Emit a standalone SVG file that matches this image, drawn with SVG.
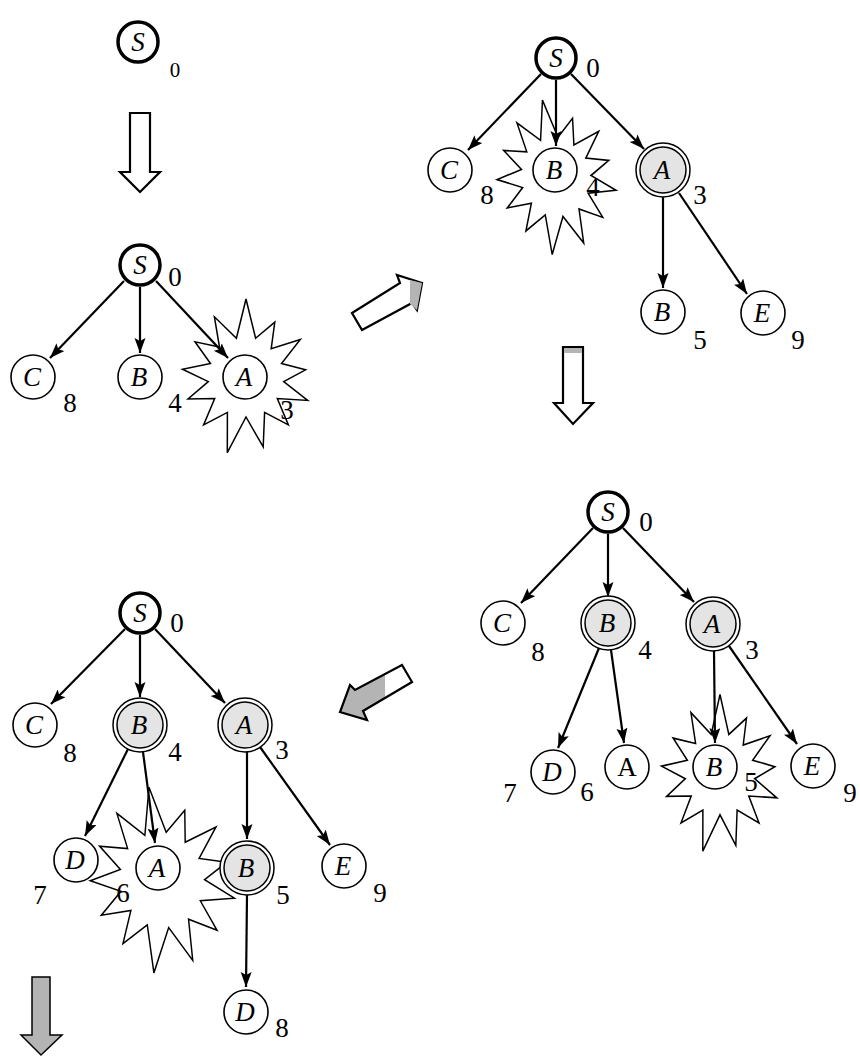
<svg xmlns="http://www.w3.org/2000/svg" xmlns:xlink="http://www.w3.org/1999/xlink" width="860" height="1057" viewBox="0 0 860 1057">
<style>
.c{fill:#fff;stroke:#000;stroke-width:1.6}
.r{fill:#fff;stroke:#000;stroke-width:3.5}
.o{fill:#fff;stroke:#000;stroke-width:1.5}
.i{fill:#e4e4e4;stroke:#000;stroke-width:1.5}
.e{stroke:#000;stroke-width:2.2;fill:none;marker-end:url(#ah)}
.star{fill:#fff;stroke:#000;stroke-width:1.5}
.ba{fill:#fff;stroke:#000;stroke-width:2.2;stroke-linejoin:miter}
.bg{fill:#b4b4b4;stroke:none}
text{font-family:"Liberation Serif","Times New Roman",serif;font-size:27px;text-anchor:middle}
.t{font-style:italic}
.s0{font-size:21px}
</style>
<defs>
<marker id="ah" markerUnits="userSpaceOnUse" markerWidth="16" markerHeight="12" refX="15" refY="5.5" orient="auto">
<path d="M0,0 L15,5.5 L0,11 L3,5.5 z" fill="#000"/>
</marker>
<polygon id="star" points="0,-78 9.6,-38.8 28.8,-54.9 25.2,-28.4 54.3,-37.5 35.5,-13.5 59.6,-7.2 37.7,4.6 61.7,23.4 31.3,21.6 42.4,47.9 18.6,35.4 17.2,69.9 0,40 -18.7,75.7 -18.6,35.4 -42.4,47.9 -31.3,21.6 -58,22 -37.7,4.6 -63.5,-7.7 -35.5,-13.5 -51,-35.2 -26.5,-29.9 -31.6,-60.2 -9.6,-38.8"/>
</defs>

<g id="highlights">
<use xlink:href="#star" class="star" transform="translate(246,377)"/>
<use xlink:href="#star" class="star" transform="translate(556,177) rotate(-10) scale(0.92,1)" style="stroke-width:1.6"/>
<use xlink:href="#star" class="star" transform="translate(720,774) scale(0.92,1.02)" style="stroke-width:1.6"/>
<use xlink:href="#star" class="star" transform="translate(162,880) rotate(-8) scale(1.12,1.2)" style="stroke-width:1.3"/>
</g>

<g id="block-arrows">
<polygon class="ba" points="130,113 150,113 150,172 160,172 140,192 120,172 130,172"/>
<polygon class="ba" points="352,313 400,283 397,275 422,283 417,310 412,303 362,330"/>
<polygon class="bg" points="410,280 422,283 417,310 410,304"/>
<polygon class="ba" points="563,347 583,347 583,403 593,403 573,424 554,403 563,403"/>
<rect class="bg" x="564" y="348" width="18" height="5"/>
<polygon class="bg" points="385,674 355,690 350,685 340,712 367,720 363,711 385,698"/>
<polygon class="ba" style="fill:none" points="402,665 355,690 350,685 340,712 367,720 363,711 412,682"/>
<polygon class="ba" style="fill:#b4b4b4;stroke-width:1.5" points="32,977 50,977 50,1035 62,1035 41,1055 21,1035 32,1035"/>
</g>

<g id="connectors">
<line class="e" x1="124" y1="281" x2="50" y2="358"/>
<line class="e" x1="140" y1="287" x2="140" y2="353"/>
<line class="e" x1="156" y1="281" x2="228" y2="358"/>

<line class="e" x1="541" y1="74" x2="468" y2="150"/>
<line class="e" x1="556" y1="80" x2="556" y2="146"/>
<line class="e" x1="571" y1="74" x2="644" y2="149"/>
<line class="e" x1="663" y1="197" x2="663" y2="288"/>
<line class="e" x1="679" y1="193" x2="747" y2="294"/>

<line class="e" x1="593" y1="528" x2="521" y2="603"/>
<line class="e" x1="608" y1="534" x2="608" y2="597"/>
<line class="e" x1="623" y1="528" x2="694" y2="602"/>
<line class="e" x1="599" y1="648" x2="558" y2="748"/>
<line class="e" x1="611" y1="650" x2="624" y2="743"/>
<line class="e" x1="714" y1="651" x2="715" y2="743"/>
<line class="e" x1="729" y1="646" x2="797" y2="744"/>

<line class="e" x1="125" y1="629" x2="51" y2="704"/>
<line class="e" x1="140" y1="635" x2="140" y2="697"/>
<line class="e" x1="155" y1="629" x2="225" y2="703"/>
<line class="e" x1="128" y1="749" x2="85" y2="836"/>
<line class="e" x1="143" y1="752" x2="155" y2="843"/>
<line class="e" x1="247" y1="752" x2="247" y2="839"/>
<line class="e" x1="260" y1="747" x2="330" y2="845"/>
<line class="e" x1="247" y1="895" x2="246" y2="987"/>
</g>

<g id="nodes">
<g id="n0-S"><circle class="r" cx="138" cy="42" r="20"/><text class="t" x="138" y="51">S</text><text class="s0" x="175" y="77">0</text></g>

<g id="n1-S"><circle class="r" cx="140" cy="265" r="20"/><text class="t" x="140" y="274">S</text><text x="175" y="286">0</text></g>
<g id="n1-C"><circle class="c" cx="33" cy="377" r="22"/><text class="t" x="32" y="386">C</text><text x="70" y="412">8</text></g>
<g id="n1-B"><circle class="c" cx="140" cy="377" r="22"/><text class="t" x="139" y="386">B</text><text x="175" y="412">4</text></g>
<g id="n1-A"><circle class="c" cx="245" cy="377" r="22"/><text class="t" x="244" y="386">A</text><text x="287" y="419">3</text></g>

<g id="n2-S"><circle class="r" cx="556" cy="58" r="20"/><text class="t" x="556" y="67">S</text><text x="593" y="77">0</text></g>
<g id="n2-C"><circle class="c" cx="450" cy="170" r="22"/><text class="t" x="449" y="179">C</text><text x="487" y="204">8</text></g>
<g id="n2-B"><circle class="c" cx="555" cy="170" r="22"/><text class="t" x="554" y="179">B</text><text x="593" y="196">4</text></g>
<g id="n2-A"><circle class="o" cx="663" cy="170" r="27"/><circle class="i" cx="663" cy="170" r="23"/><text class="t" x="662" y="179">A</text><text x="700" y="204">3</text></g>
<g id="n2-B2"><circle class="c" cx="663" cy="312" r="22"/><text class="t" x="662" y="321">B</text><text x="700" y="349">5</text></g>
<g id="n2-E"><circle class="c" cx="763" cy="313" r="22"/><text class="t" x="762" y="322">E</text><text x="798" y="349">9</text></g>

<g id="n3-S"><circle class="r" cx="608" cy="512" r="20"/><text class="t" x="608" y="521">S</text><text x="646" y="531">0</text></g>
<g id="n3-C"><circle class="c" cx="503" cy="623" r="22"/><text class="t" x="502" y="632">C</text><text x="538" y="661">8</text></g>
<g id="n3-B"><circle class="o" cx="608" cy="623" r="27"/><circle class="i" cx="608" cy="623" r="23"/><text class="t" x="607" y="632">B</text><text x="645" y="659">4</text></g>
<g id="n3-A"><circle class="o" cx="713" cy="624" r="27"/><circle class="i" cx="713" cy="624" r="23"/><text class="t" x="712" y="633">A</text><text x="752" y="659">3</text></g>
<g id="n3-D"><circle class="c" cx="553" cy="772" r="22"/><text class="t" x="552" y="781">D</text><text x="510" y="802">7</text><text x="587" y="801">6</text></g>
<g id="n3-A2"><circle class="c" cx="627" cy="767" r="22"/><text x="627" y="776">A</text></g>
<g id="n3-B2"><circle class="c" cx="715" cy="767" r="22"/><text class="t" x="714" y="776">B</text><text x="751" y="791">5</text></g>
<g id="n3-E"><circle class="c" cx="813" cy="766" r="22"/><text class="t" x="812" y="775">E</text><text x="850" y="802">9</text></g>

<g id="n4-S"><circle class="r" cx="140" cy="613" r="20"/><text class="t" x="140" y="622">S</text><text x="177" y="632">0</text></g>
<g id="n4-C"><circle class="c" cx="35" cy="725" r="22"/><text class="t" x="34" y="734">C</text><text x="70" y="762">8</text></g>
<g id="n4-B"><circle class="o" cx="140" cy="725" r="27"/><circle class="i" cx="140" cy="725" r="23"/><text class="t" x="139" y="734">B</text><text x="175" y="761">4</text></g>
<g id="n4-A"><circle class="o" cx="245" cy="725" r="27"/><circle class="i" cx="245" cy="725" r="23"/><text class="t" x="244" y="734">A</text><text x="282" y="759">3</text></g>
<g id="n4-D"><circle class="c" cx="76" cy="860" r="22"/><text class="t" x="75" y="869">D</text><text x="40" y="904">7</text></g>
<g id="n4-A2"><circle class="c" cx="158" cy="868" r="22"/><text class="t" x="157" y="877">A</text><text x="123" y="902">6</text></g>
<g id="n4-B2"><circle class="o" cx="247" cy="868" r="27"/><circle class="i" cx="247" cy="868" r="23"/><text class="t" x="246" y="877">B</text><text x="283" y="904">5</text></g>
<g id="n4-E"><circle class="c" cx="344" cy="866" r="22"/><text class="t" x="343" y="875">E</text><text x="380" y="902">9</text></g>
<g id="n4-D2"><circle class="c" cx="246" cy="1012" r="22"/><text class="t" x="245" y="1021">D</text><text x="282" y="1037">8</text></g>
</g>
</svg>
